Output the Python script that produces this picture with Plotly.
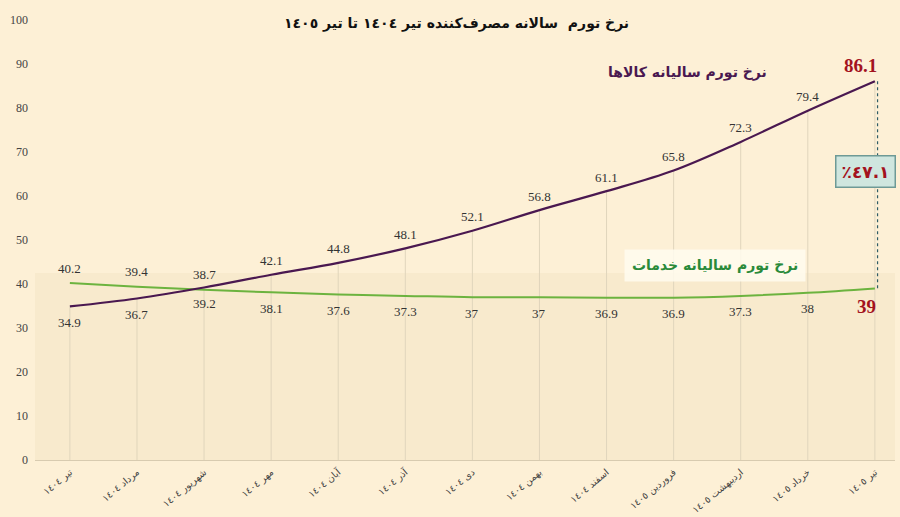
import plotly.graph_objects as go

months = ['تیر ١٤٠٤', 'مرداد ١٤٠٤', 'شهریور ١٤٠٤', 'مهر ١٤٠٤', 'آبان ١٤٠٤', 'آذر ١٤٠٤',
          'دی ١٤٠٤', 'بهمن ١٤٠٤', 'اسفند ١٤٠٤', 'فروردین ١٤٠٥', 'اردیبهشت ١٤٠٥',
          'خرداد ١٤٠٥', 'تیر ١٤٠٥']
goods = [34.9, 36.7, 39.2, 42.1, 44.8, 48.1, 52.1, 56.8, 61.1, 65.8, 72.3, 79.4, 86.1]
services = [40.2, 39.4, 38.7, 38.1, 37.6, 37.3, 37, 37, 36.9, 36.9, 37.3, 38, 39]
gap_label = '٪٤٧.١'

purple = '#4a1850'
green = '#6cb33f'
darkred = '#a3121e'
bg = '#fdf0d6'

idx = list(range(len(months)))
n = len(months)

# drop lines from axis to goods line
dx, dy = [], []
for i, v in zip(idx, goods):
    dx += [i, i, None]
    dy += [0, v, None]

fig = go.Figure()
fig.add_trace(go.Scatter(x=dx, y=dy, mode='lines', line=dict(color='#e0d5bc', width=1),
                         hoverinfo='skip', showlegend=False))
fig.add_trace(go.Scatter(x=[idx[-1] + 0.04, idx[-1] + 0.04], y=[goods[-1], services[-1]],
                         mode='lines', line=dict(color='#2f5c66', width=1.2, dash='dot'),
                         showlegend=False))
fig.add_trace(go.Scatter(x=idx, y=services, mode='lines', line=dict(color=green, width=2, shape='spline'),
                         showlegend=False))
fig.add_trace(go.Scatter(x=idx, y=goods, mode='lines', line=dict(color=purple, width=2.2, shape='spline'),
                         showlegend=False))

fig.add_shape(type='rect', xref='x', yref='y', x0=-0.52, x1=12.3, y0=0, y1=42.5,
              fillcolor='#f8eacd', line=dict(width=0), layer='below')

# value labels
lab_font = dict(family='Liberation Serif', size=13, color='#333')
for i in idx[:-1]:
    up_goods = i >= 3
    fig.add_annotation(x=i, y=goods[i], text='%g' % goods[i], showarrow=False, font=lab_font,
                       yshift=14 if up_goods else -16)
    fig.add_annotation(x=i, y=services[i], text='%g' % services[i], showarrow=False, font=lab_font,
                       yshift=-16 if up_goods else 15)

fig.add_annotation(x=idx[-1], y=goods[-1], text='<b>%g</b>' % goods[-1], showarrow=False,
                   xshift=-14, yshift=16, font=dict(family='Liberation Serif', size=19, color=darkred))
fig.add_annotation(x=idx[-1], y=services[-1], text='<b>%g</b>' % services[-1], showarrow=False,
                   xshift=-8, yshift=-18, font=dict(family='Liberation Serif', size=19, color=darkred))
fig.add_annotation(x=11.86, y=65.5, text='<b>' + gap_label + '</b>', showarrow=False,
                   font=dict(family='DejaVu Sans', size=17, color=darkred),
                   bgcolor='#cfe6df', bordercolor='#6e9a96', borderwidth=1.5, borderpad=5)
fig.add_annotation(x=9.2, y=88, text='<b>نرخ تورم سالیانه کالاها</b>', showarrow=False,
                   font=dict(family='DejaVu Sans', size=14, color=purple))
fig.add_annotation(x=9.62, y=44.3, text='<b>نرخ تورم سالیانه خدمات</b>', showarrow=False,
                   font=dict(family='DejaVu Sans', size=14, color='#2a8a3a'),
                   bgcolor='rgba(255,251,238,0.85)', borderpad=7)
fig.add_annotation(xref='paper', yref='paper', x=0.49, y=1.0, yanchor='bottom', yshift=-14,
                   text='<b>نرخ تورم  سالانه مصرف‌کننده تیر ١٤٠٤ تا تیر ١٤٠٥</b>', showarrow=False,
                   font=dict(family='DejaVu Sans', size=14, color='#111'))

fig.update_layout(
    width=900, height=517,
    margin=dict(l=35, r=5, t=20, b=57),
    paper_bgcolor=bg, plot_bgcolor=bg,
    xaxis=dict(range=[-0.52, 12.3], tickmode='array', tickvals=idx, ticktext=months,
               tickangle=-40, showgrid=False, zeroline=False, showline=True,
               linecolor='#d8cbb0', automargin=False, ticklabelstandoff=2,
               tickfont=dict(family='DejaVu Sans', size=9.5, color='#444')),
    yaxis=dict(range=[0, 100], dtick=10, showgrid=False, zeroline=False, automargin=False,
               ticks='', ticklabelstandoff=6,
               tickfont=dict(family='Liberation Serif', size=12, color='#444')),
)

fig.write_html('out.html', config={'displayModeBar': False},
               post_script="document.body.style.margin='0';")
